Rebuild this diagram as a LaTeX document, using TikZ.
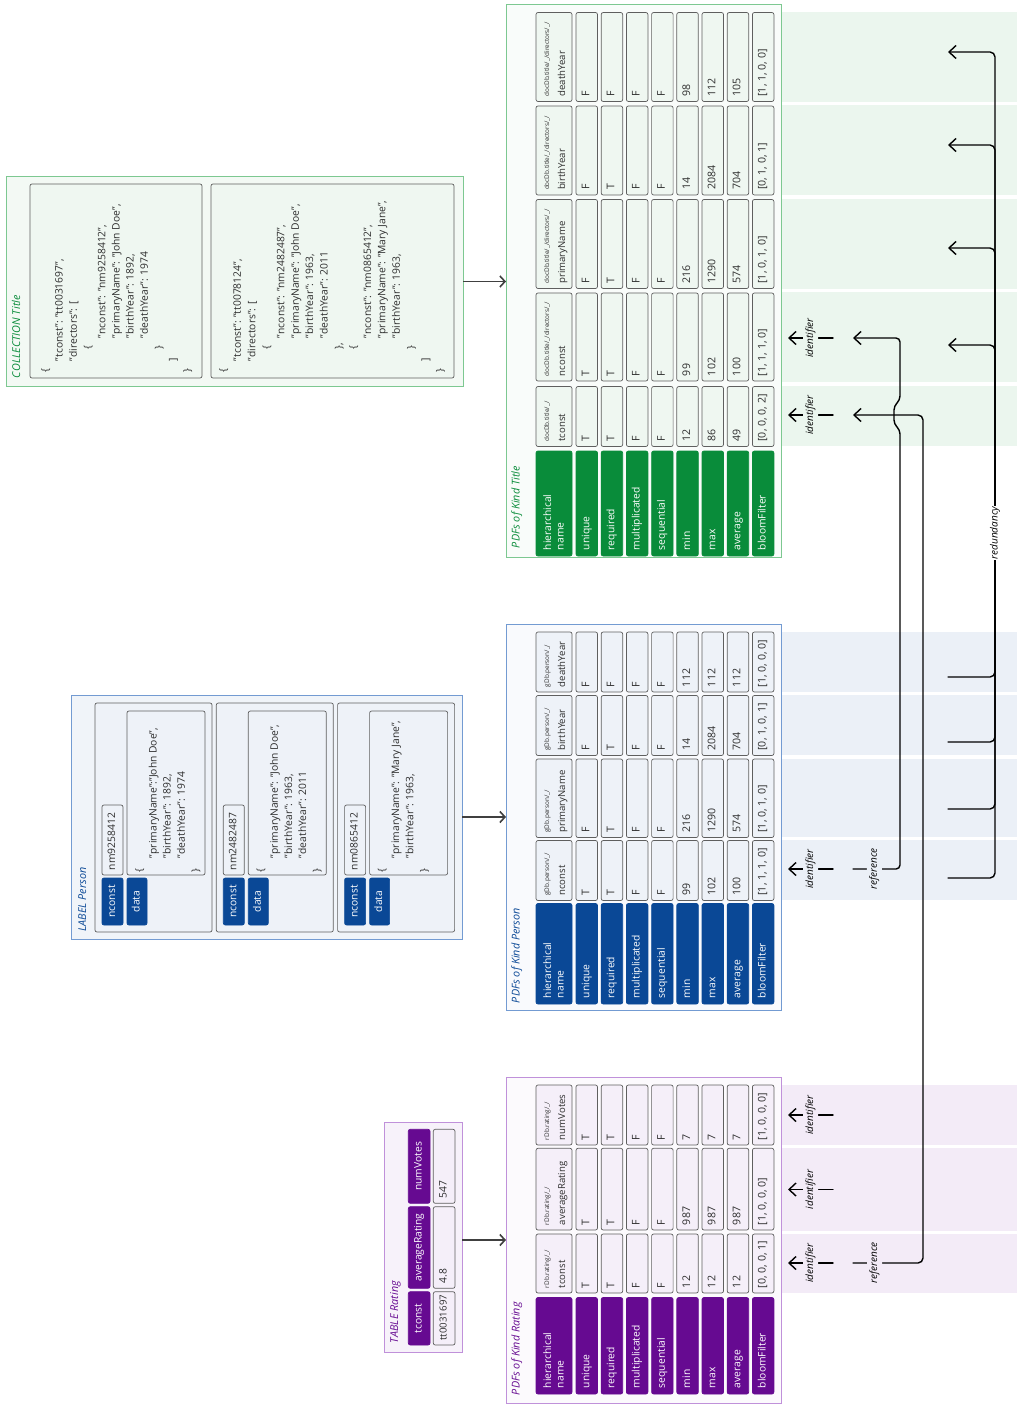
\documentclass[tikz,border=0pt]{standalone}
\usepackage{fontspec}
\setmainfont{Open Sans}
\usetikzlibrary{arrows.meta}
\definecolor{gD}{RGB}{9,140,58}
\definecolor{gBorder}{RGB}{125,200,145}
\definecolor{gBand}{RGB}{235,246,238}
\definecolor{gCell}{RGB}{239,247,241}
\definecolor{gFrame}{RGB}{249,252,250}
\definecolor{gFrameL}{RGB}{243,249,244}
\definecolor{bD}{RGB}{10,72,150}
\definecolor{bBorder}{RGB}{115,155,210}
\definecolor{bBand}{RGB}{235,240,247}
\definecolor{bCell}{RGB}{238,242,248}
\definecolor{bFrame}{RGB}{249,250,253}
\definecolor{bFrameL}{RGB}{240,244,249}
\definecolor{pD}{RGB}{102,10,145}
\definecolor{pBorder}{RGB}{192,145,218}
\definecolor{pBand}{RGB}{243,235,247}
\definecolor{pCell}{RGB}{245,239,249}
\definecolor{pFrame}{RGB}{252,250,253}
\definecolor{pFrameL}{RGB}{247,242,250}
\definecolor{cellBorder}{RGB}{95,95,95}
\definecolor{txt}{RGB}{45,45,45}
\tikzset{
  every node/.style={inner sep=0pt,outer sep=0pt},
  tx/.style={rotate=90,anchor=west,text height=7pt,text depth=2pt,text=txt,font=\fontsize{10.3}{12}\selectfont},
  txc/.style={rotate=90,anchor=center,text height=7pt,text depth=2pt,font=\fontsize{10.3}{12}\selectfont},
  datatx/.style={font=\fontsize{10.6}{12}\selectfont},
  smalltx/.style={font=\fontsize{6.4}{7}\selectfont,text height=4.6pt,text depth=1.4pt},
  colname/.style={font=\fontsize{9.6}{11}\selectfont},
  ttl/.style={rotate=90,anchor=west,text height=7pt,text depth=2pt,font=\itshape\fontsize{10.8}{12}\selectfont},
  cellbox/.style={draw=cellBorder,line width=0.7pt,rounded corners=2pt,fill=#1},
  labbox/.style={draw=#1,line width=0.7pt,rounded corners=2pt,fill=#1},
  framebox/.style 2 args={draw=#1,line width=1pt,fill=#2},
  conn/.style={draw=black,line width=1.4pt,rounded corners=5pt,line cap=round,line join=round},
  tip/.style={-{Straight Barb[length=7pt,width=13pt]}},
  marr/.style={draw=black!75,line width=1.6pt,-{Straight Barb[length=5pt,width=11pt]}},
  elab/.style={rotate=90,font=\itshape\fontsize{10}{11}\selectfont,inner xsep=1pt,inner ysep=3pt,text height=7pt,text depth=2pt}
}
% rectangle node by corners
\newcommand{\RB}[6]{%
  \pgfmathsetmacro\rbcx{(#3+#5)/2}%
  \pgfmathsetmacro\rbcy{(#4+#6)/2}%
  \pgfmathsetmacro\rbw{#5-#3}%
  \pgfmathsetmacro\rbh{#6-#4}%
  \node[#2,minimum width=\rbw pt,minimum height=\rbh pt] (#1) at (\rbcx,\rbcy) {};}
% table row labels
\newcommand{\TRows}[4]{%
  \RB{#1hn}{#4}{536}{#2}{572}{#3}%
  \pgfmathsetmacro\trs{#3-6}%
  \node[tx,text=white] (#1hnA) at (548.5,\trs) {hierarchical};
  \node[tx,text=white] (#1hnB) at (561,\trs) {name};
  \foreach \lbl [count=\i] in {unique,required,multiplicated,sequential,min,max,average,bloomFilter} {
    \pgfmathsetmacro\xa{576+25.2*(\i-1)}
    \pgfmathsetmacro\xb{\xa+21.5}
    \pgfmathsetmacro\xc{\xa+10.75}
    \RB{#1r\i}{#4}{\xa}{#2}{\xb}{#3}
    \node[tx,text=white] (#1rt\i) at (\xc,\trs) {\lbl};
  }}
% table column
\newcommand{\TCol}[7]{%
  \RB{#1h}{#6}{536}{#2}{572}{#3}%
  \pgfmathsetmacro\tcs{#3-5}%
  \node[tx,smalltx] (#1p) at (547.5,\tcs) {#4};
  \node[tx,colname] (#1n) at (562.5,\tcs) {#5};
  \foreach \v [count=\i] in {#7} {
    \pgfmathsetmacro\xa{576+25.2*(\i-1)}
    \pgfmathsetmacro\xb{\xa+21.5}
    \pgfmathsetmacro\xc{\xa+10.75}
    \RB{#1c\i}{#6}{\xa}{#2}{\xb}{#3}
    \node[tx,datatx] (#1t\i) at (\xc,\tcs) {\v};
  }}
% json lines
\newcommand{\JLines}[4]{%
  \foreach \ys/\jt [count=\i] in {#4} {
    \pgfmathsetmacro\jx{#2+#3*(\i-1)}
    \node[tx] (#1\i) at (\jx,\ys) {\jt};
  }}
\begin{document}
\begin{tikzpicture}[x=1pt,y=-1pt]
\fill[white] (0,0) rectangle (1017,1404);
\useasboundingbox (0,0) rectangle (1017,1404);

% ---------- bands on the right
\foreach \a/\b in {12/102,105/195,199/289,292/382,386/446} \fill[gBand] (782,\a) rectangle (1017,\b);
\foreach \a/\b in {632/692,695/755,759/837,840/900} \fill[bBand] (782,\a) rectangle (1017,\b);
\foreach \a/\b in {1085/1145,1148/1231,1234/1293} \fill[pBand] (782,\a) rectangle (1017,\b);

% ---------- PDFs of Kind Title
\RB{tabT}{framebox={gBorder}{gFrame}}{506}{5}{781}{557}
\node[ttl,text=gD] (tabTl) at (517,548) {PDFs of Kind Title};
\TRows{T}{451}{556}{labbox=gD}
\TCol{Ttc}{386.5}{446.5}{docDb.title/\_/}{tconst}{cellbox=gCell}{T,T,F,F,12,86,49,{[0, 0, 0, 2]}}
\TCol{Tnc}{293}{381}{docDb.title/\_/directors/\_/}{nconst}{cellbox=gCell}{T,T,F,F,99,102,100,{[1, 1, 1, 0]}}
\TCol{Tpn}{199.5}{288.5}{docDb.title/\_/directors/\_/}{primaryName}{cellbox=gCell}{F,T,F,F,216,1290,574,{[1, 0, 1, 0]}}
\TCol{Tby}{106}{195}{docDb.title/\_/directors/\_/}{birthYear}{cellbox=gCell}{F,T,F,F,14,2084,704,{[0, 1, 0, 1]}}
\TCol{Tdy}{12.5}{101.5}{docDb.title/\_/directors/\_/}{deathYear}{cellbox=gCell}{F,F,F,F,98,112,105,{[1, 1, 0, 0]}}

% ---------- PDFs of Kind Person
\RB{tabP}{framebox={bBorder}{bFrame}}{506}{624}{781}{1010}
\node[ttl,text=bD] (tabPl) at (517,1003) {PDFs of Kind Person};
\TRows{P}{903.5}{1004}{labbox=bD}
\TCol{Pnc}{840.5}{900.5}{gDb.person/\_/}{nconst}{cellbox=bCell}{T,T,F,F,99,102,100,{[1, 1, 1, 0]}}
\TCol{Ppn}{759}{837.5}{gDb.person/\_/}{primaryName}{cellbox=bCell}{F,T,F,F,216,1290,574,{[1, 0, 1, 0]}}
\TCol{Pby}{695.5}{755.5}{gDb.person/\_/}{birthYear}{cellbox=bCell}{F,T,F,F,14,2084,704,{[0, 1, 0, 1]}}
\TCol{Pdy}{632}{692}{gDb.person/\_/}{deathYear}{cellbox=bCell}{F,F,F,F,112,112,112,{[1, 0, 0, 0]}}

% ---------- PDFs of Kind Rating
\RB{tabR}{framebox={pBorder}{pFrame}}{506}{1077}{781}{1403}
\node[ttl,text=pD] (tabRl) at (517,1395) {PDFs of Kind Rating};
\TRows{R}{1297.5}{1394}{labbox=pD}
\TCol{Rtc}{1234}{1293}{rDb.rating/\_/}{tconst}{cellbox=pCell}{T,T,F,F,12,12,12,{[0, 0, 0, 1]}}
\TCol{Rar}{1148.3}{1230}{rDb.rating/\_/}{averageRating}{cellbox=pCell}{T,T,F,F,987,987,987,{[1, 0, 0, 0]}}
\TCol{Rnv}{1085}{1145}{rDb.rating/\_/}{numVotes}{cellbox=pCell}{T,T,F,F,7,7,7,{[1, 0, 0, 0]}}

% ---------- COLLECTION Title
\RB{coll}{framebox={gBorder}{gFrameL}}{6}{177}{463}{386}
\node[ttl,text=gD] (colll) at (17.5,378) {COLLECTION Title};
\RB{doc1}{cellbox=gCell}{30}{184}{202}{378}
\RB{doc2}{cellbox=gCell}{211}{184}{454}{378}
\JLines{da}{46}{14.2}{372/\{, 361/{"tconst": "tt0031697",}, 361/{"directors": [}, 349/\{, 338/{"nconst": "nm9258412",}, 338/{"primaryName": "John Doe",}, 338/{"birthYear": 1892,}, 338/{"deathYear": 1974}, 349/\}, 361/], 372/\}}
\JLines{db}{224}{14.45}{372/\{, 361/{"tconst": "tt0078124",}, 361/{"directors": [}, 349/\{, 338/{"nconst": "nm2482487",}, 338/{"primaryName": "John Doe",}, 338/{"birthYear": 1963,}, 338/{"deathYear": 2011}, 349/{\},}, 349/\{, 338/{"nconst": "nm0865412",}, 338/{"primaryName": "Mary Jane",}, 338/{"birthYear": 1963,}, 349/\}, 361/], 372/\}}

% ---------- LABEL Person
\RB{lab}{framebox={bBorder}{bFrameL}}{71}{695}{462}{939}
\node[ttl,text=bD] (labl) at (83.5,931.5) {LABEL Person};
% record 1
\RB{rec1}{cellbox=bCell}{95}{703}{212}{932}
\RB{rec1n}{labbox=bD}{102}{878}{123}{925}
\node[txc,text=white] (rec1nt) at (rec1n) {nconst};
\RB{rec1d}{labbox=bD}{127}{878}{147}{925}
\node[txc,text=white] (rec1dt) at (rec1d) {data};
\RB{rec1v}{cellbox=bCell}{102}{805}{123}{875}
\node[tx] (rec1vt) at (112.5,870) {nm9258412};
\RB{rec1j}{cellbox=bCell}{127}{711}{205}{875}
\JLines{ja}{140}{14.1}{872/\{, 858/{"primaryName":"John Doe",}, 858/{"birthYear": 1892,}, 858/{"deathYear": 1974}, 872/\}}
% record 2
\RB{rec2}{cellbox=bCell}{216.3}{703}{333.3}{932}
\RB{rec2n}{labbox=bD}{223.3}{878}{244.3}{925}
\node[txc,text=white] (rec2nt) at (rec2n) {nconst};
\RB{rec2d}{labbox=bD}{248.3}{878}{268.3}{925}
\node[txc,text=white] (rec2dt) at (rec2d) {data};
\RB{rec2v}{cellbox=bCell}{223.3}{805}{244.3}{875}
\node[tx] (rec2vt) at (233.8,870) {nm2482487};
\RB{rec2j}{cellbox=bCell}{248.3}{711}{326.3}{875}
\JLines{jb}{261.3}{14.1}{872/\{, 858/{"primaryName": "John Doe",}, 858/{"birthYear": 1963,}, 858/{"deathYear": 2011}, 872/\}}
% record 3
\RB{rec3}{cellbox=bCell}{337.6}{703}{454.6}{932}
\RB{rec3n}{labbox=bD}{344.6}{878}{365.6}{925}
\node[txc,text=white] (rec3nt) at (rec3n) {nconst};
\RB{rec3d}{labbox=bD}{369.6}{878}{389.6}{925}
\node[txc,text=white] (rec3dt) at (rec3d) {data};
\RB{rec3v}{cellbox=bCell}{344.6}{805}{365.6}{875}
\node[tx] (rec3vt) at (355.1,870) {nm0865412};
\RB{rec3j}{cellbox=bCell}{369.6}{711}{447.6}{875}
\JLines{jc}{382.6}{14.1}{872/\{, 858/{"primaryName": "Mary Jane",}, 858/{"birthYear": 1963,}, 872/\}}

% ---------- TABLE Rating
\RB{trat}{framebox={pBorder}{pFrameL}}{384}{1122}{462}{1352}
\node[ttl,text=pD] (tratl) at (395.5,1343) {TABLE Rating};
\RB{trl1}{labbox=pD}{408.3}{1291.7}{430}{1345}
\node[txc,text=white] (trl1t) at (trl1) {tconst};
\RB{trl2}{labbox=pD}{408.3}{1206.7}{430}{1288.3}
\node[txc,text=white] (trl2t) at (trl2) {averageRating};
\RB{trl3}{labbox=pD}{408.3}{1129.3}{430}{1203.3}
\node[txc,text=white] (trl3t) at (trl3) {numVotes};
\RB{trv1}{cellbox=pCell}{433.3}{1291.7}{455}{1345}
\node[tx,font=\fontsize{9.7}{11}\selectfont] (trv1t) at (444.2,1340.5) {tt0031697};
\RB{trv2}{cellbox=pCell}{433.3}{1206.7}{455}{1288.3}
\node[tx] (trv2t) at (444.2,1283) {4.8};
\RB{trv3}{cellbox=pCell}{433.3}{1129.3}{455}{1203.3}
\node[tx] (trv3t) at (444.2,1198) {547};

% ---------- main arrows
\draw[marr] (coll.east) -- (coll.east -| tabT.west);
\draw[marr] (lab.east) -- (lab.east -| tabP.west);
\draw[marr] (trat.east |- tabR.west) -- (tabR.west);

% ---------- redundancy connectors
\coordinate (tDY) at (948,52);  \coordinate (pDY) at (948,677);
\coordinate (tBY) at (948,145); \coordinate (pBY) at (948,742);
\coordinate (tPN) at (948,248); \coordinate (pPN) at (948,809);
\coordinate (tNC) at (948,345); \coordinate (pNC) at (948,878);
\foreach \a/\b in {pDY/tDY,pBY/tBY,pPN/tPN,pNC/tNC}
  \draw[conn,tip] (\a) -- ++(47,0) |- (\b);
\node[elab,fill=white] (redl) at (995,533) {redundancy};

% ---------- identifier markers
\foreach \y/\bg [count=\k] in {338/gBand,415/gBand,869/bBand,1115/pBand,1189.5/pBand,1263/pBand} {
  \coordinate (idA\k) at (788,\y);
  \coordinate (idB\k) at (833,\y);
  \draw[conn,tip] (idB\k) -- node[elab,fill=\bg] (idl\k) {identifier} (idA\k);
}

% ---------- reference connectors
\coordinate (refRs) at (853,1263); \coordinate (refRe) at (853,415);
\draw[conn,tip] (refRs) -- node[elab,fill=pBand,pos=0.307] (refl1) {reference} ++(70,0) |- (refRe);
\coordinate (refPs) at (853,869); \coordinate (refPe) at (853,338);
\draw[conn,tip,rounded corners=4pt] (refPs) -- node[elab,fill=bBand,pos=0.457] (refl2) {reference} (900,869)
  -- (900,430) -- (894,424) -- (894,406) -- (900,400) -- (900,338) -- (refPe);
\end{tikzpicture}
\end{document}
